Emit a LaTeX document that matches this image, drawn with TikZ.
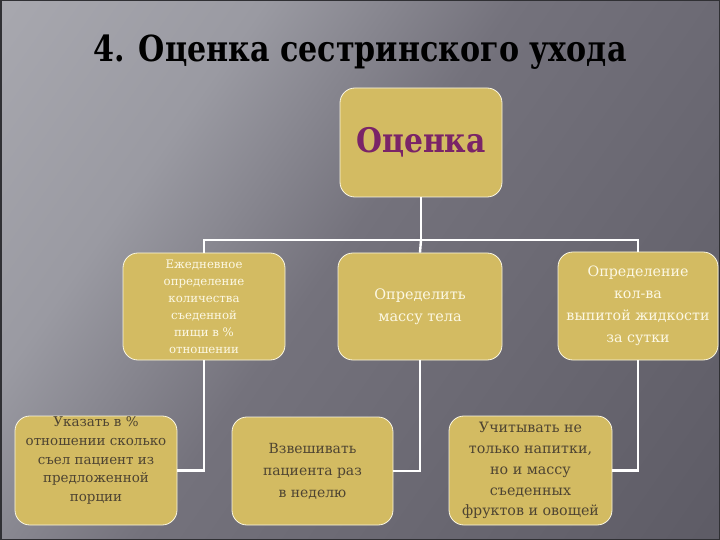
\documentclass[tikz,border=0pt]{standalone}
\usepackage{fontspec}
\newfontfamily\serf{DejaVu Serif}
\usetikzlibrary{calc,shadows}
\definecolor{bgA}{RGB}{180,180,186}
\definecolor{bgB}{RGB}{154,154,162}
\definecolor{bgC}{RGB}{116,114,124}
\definecolor{bgD}{RGB}{84,82,92}
\definecolor{boxfill}{RGB}{211,187,98}
\definecolor{boxline}{RGB}{250,246,225}
\definecolor{lighttext}{RGB}{252,248,228}
\definecolor{darktext}{RGB}{78,68,50}
\definecolor{titlepurple}{RGB}{122,36,104}
\pgfdeclarehorizontalshading{bgsh}{100bp}{color(0bp)=(bgA); color(32bp)=(bgB); color(48bp)=(bgC); color(100bp)=(bgD)}
\tikzset{
  box/.style={draw=boxline, line width=0.8pt, fill=boxfill, rounded corners=15pt,
    align=center, inner sep=0pt},
  conn/.style={draw=white, line width=2.4pt},
}
\begin{document}
\begin{tikzpicture}[x=1bp,y=-1bp]
\useasboundingbox (0,0) rectangle (720,540);
\shade[shading=bgsh, shading angle=-35] (0,0) rectangle (720,540);
\draw[line width=3bp, draw={rgb,255:red,48;green,48;blue,52}] (0,0) rectangle (720,540);

\node[font=\serf\bfseries\fontsize{36}{40}\selectfont, text=black, xscale=0.84] (title) at (360,52) {4. Оценка сестринского ухода};

\node[box, minimum width=162bp, minimum height=109bp] (top) at (421,142.5) {};
\node[font=\serf\bfseries\fontsize{34}{38}\selectfont, text=titlepurple, xscale=0.88] (toptext) at (top.center) {Оценка};

\node[box, minimum width=162bp, minimum height=107bp,
  font=\serf\fontsize{11.8}{17}\selectfont, text=lighttext] (b1) at (204,306.5)
  {Ежедневное\\определение\\количества\\съеденной\\пищи в \%\\отношении};
\node[box, minimum width=164bp, minimum height=107bp,
  font=\serf\fontsize{14.5}{22}\selectfont, text=lighttext] (b2) at (420,306.5)
  {Определить\\массу тела};
\node[box, minimum width=160bp, minimum height=108bp,
  font=\serf\fontsize{14.3}{22}\selectfont, text=lighttext] (b3) at (638,306)
  {Определение\\кол-ва\\выпитой жидкости\\за сутки};

\node[box, minimum width=162bp, minimum height=109bp,
  font=\serf\fontsize{13.5}{19}\selectfont, text=darktext] (b4) at (96,470.5)
  {Указать в \%\\отношении сколько\\съел пациент из\\предложенной\\порции\\[4bp]};
\node[box, minimum width=161bp, minimum height=108bp,
  font=\serf\fontsize{14}{22}\selectfont, text=darktext] (b5) at (312.5,471)
  {Взвешивать\\пациента раз\\в неделю};
\node[box, minimum width=163bp, minimum height=109bp,
  font=\serf\fontsize{14.3}{21}\selectfont, text=darktext] (b6) at (530.5,470.5)
  {Учитывать не\\только напитки,\\но и массу\\съеденных\\фруктов и овощей};

\coordinate (j) at (421,240);
\draw[conn] (top.south) -- (j);
\draw[conn] (b1.north) -- (b1.north |- j) -- (b3.north |- j) -- (b3.north);
\draw[conn] (j) -- (b2.north);
\draw[conn] (b1.south) |- (b4.east);
\draw[conn] (b2.south) |- (b5.east);
\draw[conn] (b3.south) |- (b6.east);
\end{tikzpicture}
\end{document}
